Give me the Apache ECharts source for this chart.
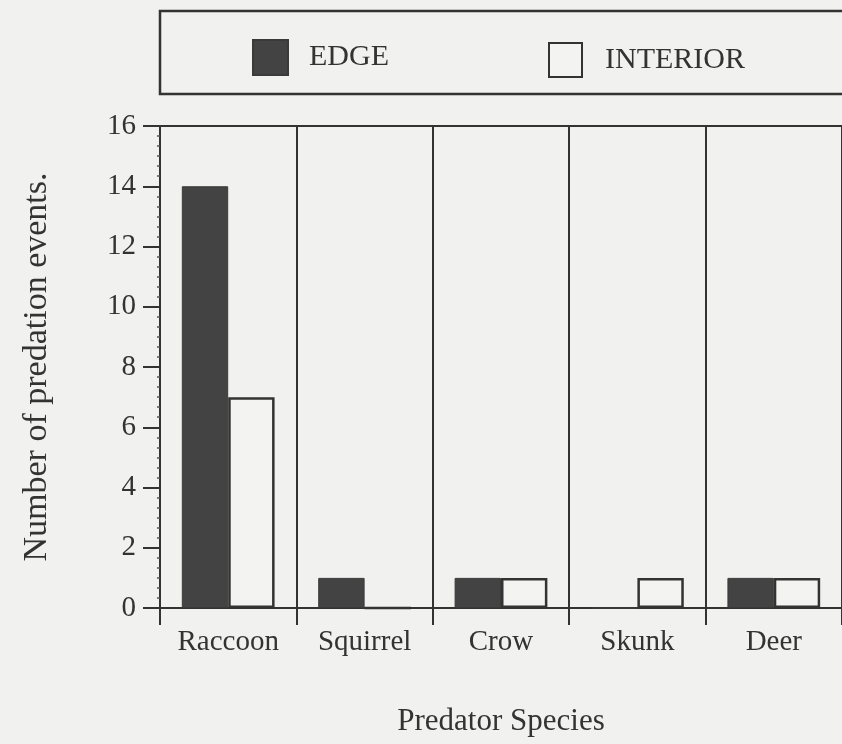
<!DOCTYPE html>
<html>
<head>
<meta charset="utf-8">
<script src="https://cdn.jsdelivr.net/npm/echarts@6/dist/echarts.min.js"></script>
<style>
  html, body { margin: 0; padding: 0; background: #f1f1ef; }
  #chart { width: 842px; height: 744px; }
</style>
</head>
<body>
<div id="chart"></div>
<script>
// predator species on the x axis
const species = ['Raccoon', 'Squirrel', 'Crow', 'Skunk', 'Deer'];
// number of predation events per habitat
const edgeValues = [14, 1, 1, 0, 1];
const interiorValues = [7, 0, 1, 1, 1];
const yTicks = [0, 2, 4, 6, 8, 10, 12, 14, 16];

const ink = '#333333';
const serif = '"Liberation Serif", "Times New Roman", serif';

const chart = echarts.init(document.getElementById('chart'), null, { renderer: 'canvas' });

chart.setOption({
  animation: false,
  backgroundColor: '#f1f1ef',
  textStyle: { fontFamily: serif, color: ink },
  // frame round the legend, runs off the right edge like the scan
  graphic: [{
    type: 'rect',
    shape: { x: 160, y: 11, width: 700, height: 83 },
    style: { fill: 'none', stroke: ink, lineWidth: 2.5 }
  }],
  legend: [
    {
      data: ['EDGE'], left: 247, top: 34, itemWidth: 35, itemHeight: 35, icon: 'rect',
      textStyle: { fontFamily: serif, fontSize: 30, color: ink, padding: [0, 0, 0, 16] }
    },
    {
      data: ['INTERIOR'], left: 543, top: 37, itemWidth: 33, itemHeight: 34, icon: 'rect',
      textStyle: { fontFamily: serif, fontSize: 30, color: ink, padding: [0, 0, 0, 18] }
    }
  ],
  grid: { left: 160, top: 126, width: 685, height: 482, show: true, borderColor: ink, borderWidth: 2 },
  xAxis: {
    type: 'category',
    data: species,
    name: 'Predator Species',
    nameLocation: 'middle',
    nameGap: 98,
    nameTextStyle: { fontFamily: serif, fontSize: 31, color: ink },
    axisLine: { lineStyle: { color: ink, width: 2 } },
    axisTick: { show: true, length: 17, lineStyle: { color: ink, width: 2 } },
    axisLabel: { fontFamily: serif, fontSize: 29, color: ink, margin: 20 },
    splitLine: { show: true, lineStyle: { color: ink, width: 2 } }
  },
  yAxis: {
    type: 'value',
    min: yTicks[0],
    max: yTicks[yTicks.length - 1],
    interval: 2,
    name: 'Number of predation events.',
    nameLocation: 'middle',
    nameGap: 106,
    nameTextStyle: { fontFamily: serif, fontSize: 34, color: ink },
    axisLine: { show: true, lineStyle: { color: ink, width: 2 } },
    axisTick: { show: true, length: 17, lineStyle: { color: ink, width: 2 } },
    minorTick: { show: true, splitNumber: 6, length: 3, lineStyle: { color: '#555', width: 1.5 } },
    axisLabel: { fontFamily: serif, fontSize: 29, color: ink, margin: 24 },
    splitLine: { show: false }
  },
  series: [
    {
      name: 'EDGE',
      type: 'bar',
      data: edgeValues,
      barWidth: '34%',
      barGap: '0%',
      itemStyle: { color: '#434343', borderColor: '#3a3a3a', borderWidth: 1 }
    },
    {
      name: 'INTERIOR',
      type: 'bar',
      data: interiorValues,
      barWidth: '34%',
      barGap: '0%',
      itemStyle: { color: '#f3f3f1', borderColor: ink, borderWidth: 2.5 }
    }
  ]
});
</script>
</body>
</html>
